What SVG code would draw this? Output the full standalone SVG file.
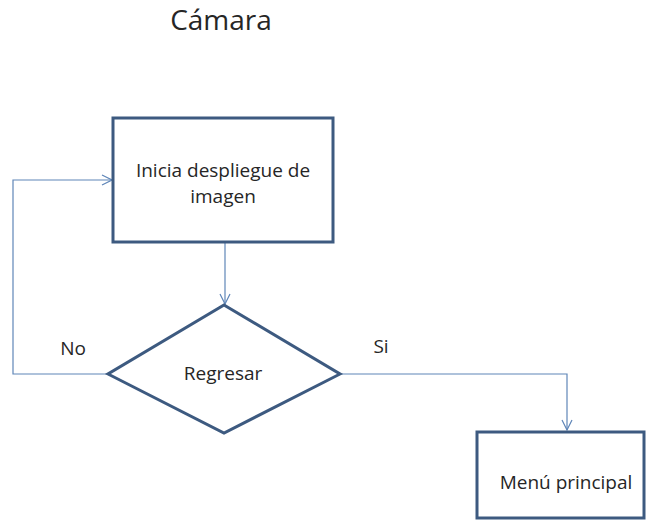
<svg xmlns="http://www.w3.org/2000/svg" width="647" height="521" viewBox="0 0 647 521">
<style>
.shape{fill:#ffffff;stroke:#3d5a80;stroke-width:3}
.conn{fill:none;stroke:#5f86b8;stroke-width:1.2}
.t{font-family:"Open Sans","Noto Sans",sans-serif;fill:#262626;font-size:19px}
</style>
<defs>
<marker id="arr" viewBox="0 0 12 12" refX="11" refY="6" markerWidth="12" markerHeight="12" markerUnits="userSpaceOnUse" orient="auto">
<path d="M1,1 L11,6 L1,11" fill="none" stroke="#5f86b8" stroke-width="1.2"/>
</marker>
</defs>
<rect width="647" height="521" fill="#ffffff"/>
<text class="t" x="221" y="30" style="font-size:28px" text-anchor="middle">Cámara</text>
<g id="connectors">
<path class="conn" d="M225,243 L225,304" marker-end="url(#arr)"/>
<path class="conn" d="M108,374 L13,374 L13,180 L112,180" marker-end="url(#arr)"/>
<path class="conn" d="M340,374 L567,374 L567,430" marker-end="url(#arr)"/>
</g>
<g id="n1">
<rect class="shape" x="113" y="118" width="220" height="124"/>
<text class="t" x="223" y="177" text-anchor="middle">Inicia despliegue de</text>
<text class="t" x="223" y="203" text-anchor="middle">imagen</text>
</g>
<g id="n2">
<polygon class="shape" points="224,305 340,374 224,433 108,374"/>
<text class="t" x="223" y="380" text-anchor="middle">Regresar</text>
</g>
<g id="n3">
<rect class="shape" x="477" y="432" width="167" height="86"/>
<text class="t" x="566" y="489" text-anchor="middle">Menú principal</text>
</g>
<text class="t" x="73" y="355" text-anchor="middle">No</text>
<text class="t" x="381" y="353" text-anchor="middle">Si</text>
</svg>
